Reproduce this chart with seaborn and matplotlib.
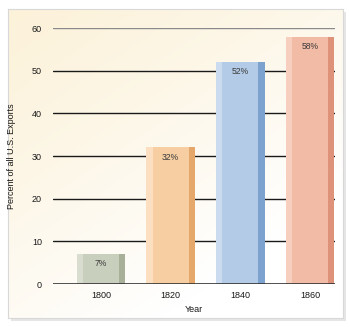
import numpy as np
import pandas as pd
import matplotlib
matplotlib.use("Agg")
import matplotlib.pyplot as plt
from matplotlib.patches import Rectangle
import seaborn as sns

years = ["1800", "1820", "1840", "1860"]
percent = [7, 32, 52, 58]
value_labels = ["7%", "32%", "52%", "58%"]
main_colors = ["#c9cfbd", "#f6cea2", "#b3cbe6", "#f2bba5"]
light_colors = ["#d9ddcf", "#fbdfc0", "#cbdcf0", "#f7cfbf"]
dark_colors = ["#a8b09a", "#e6a86a", "#7ca3cf", "#de927a"]

sns.set_theme(style="white")
plt.rcParams["font.family"] = ["Liberation Sans", "DejaVu Sans"]

W, H = 350, 327
fig = plt.figure(figsize=(W / 100, H / 100), dpi=100)
fig.patch.set_facecolor("white")

# Panel background: cream-to-white gradient with a faint shadow
px0, py0, px1, py1 = 8, 9, 343, 318
shadow = fig.add_axes([(px0 + 3) / W, 1 - (py1 + 3) / H, (px1 - px0) / W, (py1 - py0) / H])
shadow.set_facecolor("#e6e6e6")
shadow.set_xticks([]); shadow.set_yticks([])
for s in shadow.spines.values():
    s.set_visible(False)

bg = fig.add_axes([px0 / W, 1 - py1 / H, (px1 - px0) / W, (py1 - py0) / H])
gx, gy = np.meshgrid(np.linspace(0, 1, 200), np.linspace(0, 1, 200))
t = np.clip(0.55 * gx + 0.75 * gy, 0, 1) ** 1.2
cream = np.array([252, 242, 218]) / 255
white = np.array([255, 255, 255]) / 255
img = cream[None, None, :] * (1 - t[..., None]) + white[None, None, :] * t[..., None]
bg.imshow(img, aspect="auto", extent=[0, 1, 0, 1], origin="upper")
bg.set_xticks([]); bg.set_yticks([])
for s in bg.spines.values():
    s.set_color("#d8d8d8")
    s.set_linewidth(0.8)

# Main chart axes
ax_l, ax_r, ax_t, ax_b = 53, 335, 28, 284
ax = fig.add_axes([ax_l / W, 1 - ax_b / H, (ax_r - ax_l) / W, (ax_b - ax_t) / H])
ax.patch.set_alpha(0)

df = pd.DataFrame({"Year": years, "Percent": percent})
sns.barplot(data=df, x="Year", y="Percent", hue="Year", palette=main_colors,
            legend=False, width=0.70, saturation=1, linewidth=0, ax=ax, zorder=3)

ax.set_ylim(0, 60)
ax.set_xlim(-0.69, 3.36)
ax.set_yticks([0, 10, 20, 30, 40, 50, 60])

# Horizontal rules behind the bars
for v in [10, 20, 30, 40, 50]:
    ax.axhline(v, color="#1a1a1a", lw=1.0, zorder=1)
ax.axhline(60, color="#8a8a8a", lw=1.0, zorder=1)
ax.axhline(0, color="#333333", lw=1.2, zorder=4)

# Shaded edges on each bar and value labels inside the top
for i, p in enumerate(ax.patches[:len(years)]):
    x0, w, h = p.get_x(), p.get_width(), p.get_height()
    strip = w * 0.13
    ax.add_patch(Rectangle((x0, 0), strip, h, color=light_colors[i], lw=0, zorder=3.5))
    ax.add_patch(Rectangle((x0 + w - strip, 0), strip, h, color=dark_colors[i], lw=0, zorder=3.5))
    ax.text(x0 + w / 2, h - 1.2, value_labels[i], ha="center", va="top",
            fontsize=6.2, color="#3a3a3a", zorder=5)

for s in ax.spines.values():
    s.set_visible(False)
ax.tick_params(axis="both", length=0, labelsize=6.5, colors="#1a1a1a")
ax.tick_params(axis="y", pad=8)
ax.tick_params(axis="x", pad=5)
ax.set_xlabel("Year", fontsize=6.5, color="#1a1a1a", labelpad=4)
ax.set_ylabel("Percent of all U.S. Exports", fontsize=6.5, color="#1a1a1a", labelpad=11)

fig.savefig("out.png", dpi=100)
